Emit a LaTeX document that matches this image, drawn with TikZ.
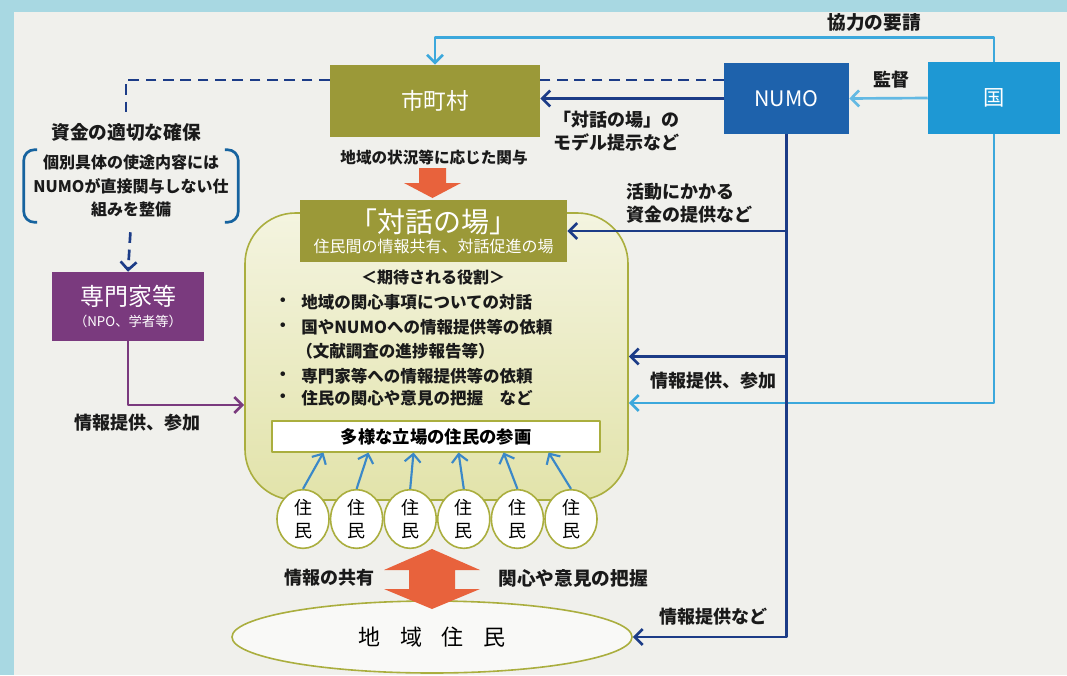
\documentclass[tikz,border=0pt]{standalone}
\usepackage{fontspec}
\setmainfont{Noto Sans CJK JP}
\usetikzlibrary{arrows.meta,shapes.geometric}
\definecolor{bgblue}{RGB}{168,216,226}
\definecolor{paper}{RGB}{240,240,236}
\definecolor{boxolive}{RGB}{155,153,56}
\definecolor{rimolive}{RGB}{170,174,62}
\definecolor{regtop}{RGB}{244,244,224}
\definecolor{regbot}{RGB}{226,227,170}
\definecolor{numoblue}{RGB}{30,98,172}
\definecolor{kuniblue}{RGB}{30,152,212}
\definecolor{navy}{RGB}{28,60,135}
\definecolor{skyline}{RGB}{60,168,220}
\definecolor{midblue}{RGB}{58,136,200}
\definecolor{plum}{RGB}{122,58,126}
\definecolor{flame}{RGB}{232,98,60}
\definecolor{ink}{RGB}{26,26,26}
\begin{document}
\begin{tikzpicture}[x=0.75pt, y=-0.75pt, line join=round, >={Straight Barb[length=6pt,width=12pt]},
	box/.style={inner sep=0pt, text=white, align=center},
	lbl/.style={text=ink, font=\bfseries\fontsize{13.5}{17}\selectfont, align=left, inner sep=0pt},
	navyln/.style={navy, line width=2pt},
	skyln/.style={skyline, line width=2pt},
	plumln/.style={plum, line width=2pt},
	dashln/.style={navy, line width=2pt, dash pattern=on 8pt off 5pt},
	rim/.style={draw=rimolive, line width=1.2pt, inner sep=0pt}]
	\fill[bgblue] (0,0) rectangle (1067,675);
	\fill[paper] (14,12) rectangle (1067,675);
	\useasboundingbox (0,0) rectangle (1067,675);
	% region and boxes
	\node[rim, rounded corners=38pt, top color=regtop, bottom color=regbot, minimum width=287.25pt, minimum height=215.25pt] (region) at (436.5,356.5) {};
	\node[box, fill=boxolive, minimum width=157.5pt, minimum height=54pt, font=\fontsize{17}{17}\selectfont] (city) at (435,101) {市町村};
	\node[box, fill=numoblue, minimum width=93.75pt, minimum height=53.25pt, font=\fontsize{16}{16}\selectfont] (numo) at (786.5,98.5) {NUMO};
	\node[box, fill=kuniblue, minimum width=99pt, minimum height=54pt, font=\fontsize{16}{16}\selectfont] (kuni) at (994,98) {国};
	\node[box, fill=boxolive, minimum width=200.25pt, minimum height=46.5pt] (taiwa) at (433.5,231) {{\fontsize{21}{21}\selectfont 「対話の場」}\\[3pt]{\fontsize{12}{12}\selectfont 住民間の情報共有、対話促進の場}};
	\node[box, fill=plum, minimum width=114pt, minimum height=51.75pt] (expert) at (128,306.5) {{\fontsize{18}{18}\selectfont 専門家等}\\[4pt]{\fontsize{10}{10}\selectfont （NPO、学者等）}};
	\node[rim, fill=white, minimum width=246pt, minimum height=23.25pt, font=\bfseries\fontsize{13}{13}\selectfont] (sanka) at (436,436.5) {多様な立場の住民の参画};
	\node[rim, fill=white!60!paper, ellipse, minimum width=300pt, minimum height=54pt, font=\fontsize{16.5}{16.5}\selectfont] (res) at (432,637) {地\hspace{0.9em}域\hspace{0.9em}住\hspace{0.9em}民};
	% kuni
	\draw[skyln,->] (kuni.north) -- ++(0,-24) -| (city.north);
	\node[lbl, font=\bfseries\fontsize{14}{14}\selectfont] (yosei) at (874,22) {協力の要請};
	\draw[skyln,skyline!80!white,->] (kuni.west) -- (numo.east);
	\node[lbl] (kantoku) at (891,80) {監督};
	\draw[skyln,->] (kuni.south) |- ([yshift=-34.9pt]region.east);
	% numo
	\draw[navyln,->] (numo.west) -- (numo.west -| city.east);
	\node[lbl, anchor=west] (model) at (553,131) {「対話の場」の\\モデル提示など};
	\draw[dashln] ([yshift=14pt]numo.west) -- ([yshift=14pt]numo.west -| city.east);
	\draw[navyln,->] (numo.south) |- (res.east);
	\draw[navyln,->] (numo.south |- taiwa.east) -- (taiwa.east);
	\draw[navyln,->] (numo.south |- region.east) -- (region.east);
	\node[lbl, anchor=west] (shikin) at (626,203.5) {活動にかかる\\資金の提供など};
	\node[lbl] (teikyo1) at (713,381) {情報提供、参加};
	\node[lbl] (teikyo2) at (713,617) {情報提供など};
	% left side
	\node[lbl, inner sep=3pt, font=\bfseries\fontsize{14}{14}\selectfont] (fund) at (126,132) {資金の適切な確保};
	\draw[dashln] ([yshift=15.75pt]city.west) -| (fund.north);
	\node[lbl, align=center, minimum width=160.5pt, minimum height=54pt, font=\bfseries\fontsize{12}{17.6}\selectfont] (note) at (131,186) {個別具体の使途内容には\\NUMOが直接関与しない仕\\組みを整備};
	\draw[navy!80!cyan, line width=2pt, rounded corners=8pt] ([xshift=10pt]note.north west) -- (note.north west) -- (note.south west) -- ([xshift=10pt]note.south west);
	\draw[navy!80!cyan, line width=2pt, rounded corners=8pt] ([xshift=-10pt]note.north east) -- (note.north east) -- (note.south east) -- ([xshift=-10pt]note.south east);
	\draw[dashln,->,shorten <=7.5pt] (note.south) -- (expert.north);
	\draw[plumln,->] (expert.south) |- ([yshift=-36.4pt]region.west);
	\node[lbl] (teikyo3) at (137,423) {情報提供、参加};
	% roles
	\node[lbl, font=\bfseries\fontsize{12}{12}\selectfont] (yakuwari) at (433,277) {＜期待される役割＞};
	\foreach \y/\t in {302/地域の関心事項についての対話, 327/国やNUMOへの情報提供等の依頼, 376/専門家等への情報提供等の依頼, 398/住民の関心や意見の把握\quad など}{
		\node[lbl, font=\bfseries\fontsize{12.4}{12.4}\selectfont] (b\y) at (283,\y) {・};
		\node[lbl, anchor=west, font=\bfseries\fontsize{12.4}{12.4}\selectfont] (r\y) at (301,\y) {\t};
	}
	\node[lbl, anchor=west, font=\bfseries\fontsize{12.4}{12.4}\selectfont] (r351) at (296,351) {（文献調査の進捗報告等）};
	% residents
	\foreach \i in {1,...,6}{
		\pgfmathsetmacro\cx{303+53.6*(\i-1)}
		\pgfmathsetmacro\tx{436+(\cx-437)*0.84}
		\node[rim, fill=white, ellipse, minimum width=39pt, minimum height=44pt, align=center, font=\fontsize{13.5}{17}\selectfont] (c\i) at (\cx,519) {住\\民};
		\coordinate (t\i) at (\tx,452.5);
		\draw[midblue, line width=1.6pt, ->] (c\i.north) -- (t\i);
	}
	% orange arrows
	\node[lbl, font=\bfseries\fontsize{11.7}{11.7}\selectfont] (kanyo) at (434,158) {地域の状況等に応じた関与};
	\fill[flame] (419,168) -- (446,168) -- (446,183) -- (461,183) -- (432.5,198) -- (404,183) -- (419,183) -- cycle;
	\fill[flame] (432,549) -- (480,570) -- (455,570) -- (455,589) -- (480,589) -- (432,609) -- (384,589) -- (409,589) -- (409,570) -- (384,570) -- cycle;
	\node[lbl] (kyoyu) at (329,578) {情報の共有};
	\node[lbl, font=\bfseries\fontsize{14}{14}\selectfont] (haaku) at (573,578) {関心や意見の把握};
\end{tikzpicture}
\end{document}
